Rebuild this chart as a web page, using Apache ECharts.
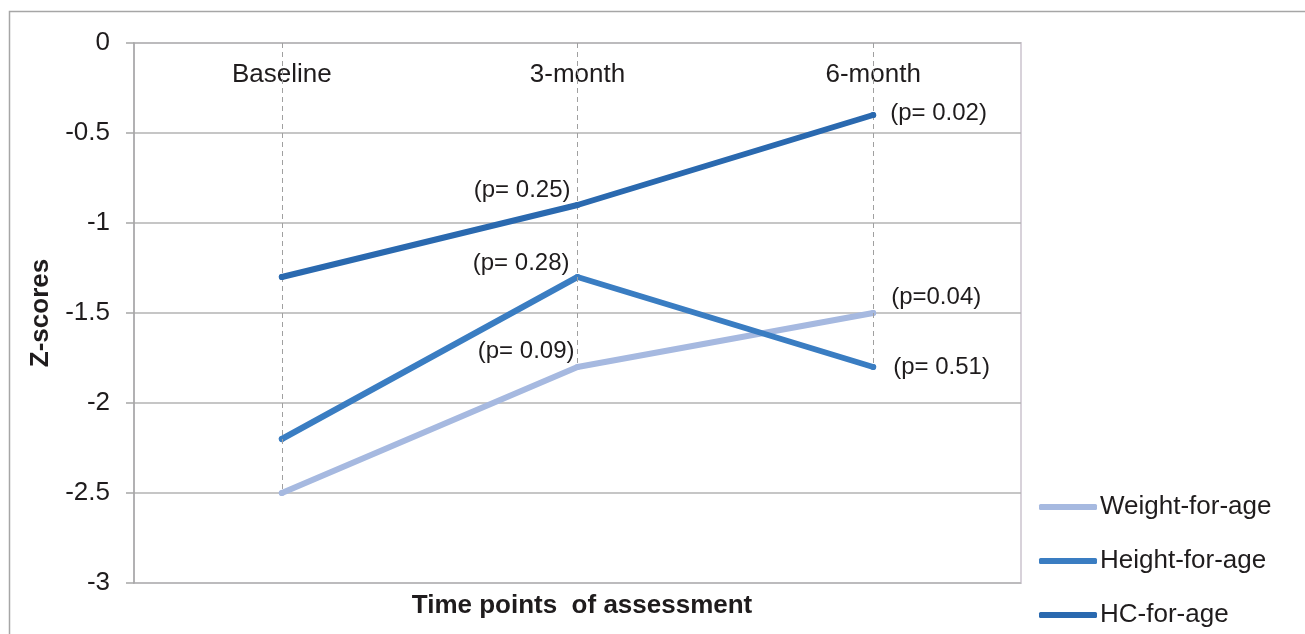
<!DOCTYPE html>
<html>
<head>
<meta charset="utf-8">
<script src="https://cdn.jsdelivr.net/npm/echarts@6/dist/echarts.min.js"></script>
<style>
  html, body { margin: 0; padding: 0; background: #ffffff; }
  #chart { width: 1305px; height: 634px; }
</style>
</head>
<body>
<div id="chart"></div>
<script>
// ---- data ----
const categories = ['Baseline', '3-month', '6-month'];
const seriesNames = ['Weight-for-age', 'Height-for-age', 'HC-for-age'];
const weightForAge = [-2.5, -1.8, -1.5];
const heightForAge = [-2.2, -1.3, -1.8];
const hcForAge = [-1.3, -0.9, -0.4];
const weightLabels = ['', '(p= 0.09)', '(p=0.04)'];
const heightLabels = ['', '(p= 0.28)', '(p= 0.51)'];
const hcLabels = ['', '(p= 0.25)', '(p= 0.02)'];
const yTicks = { min: -3, max: 0, interval: 0.5 };
const xTitle = 'Time points  of assessment';
const yTitle = 'Z-scores';

// ---- styling ----
const FONT = '"Liberation Sans", Arial, sans-serif';
const TEXT = '#1f1c1d';
const colors = ['#a6b9e0', '#3a7dc2', '#2a69af'];

// label placement per series / point (styles only)
const labelPlacement = [
  [null, { position: 'left', distance: 0, offset: [0, -16] }, { position: 'right', distance: 15, offset: [0, -16] }],
  [null, { position: 'left', distance: 5, offset: [0, -14] }, { position: 'right', distance: 17, offset: [0, 0] }],
  [null, { position: 'left', distance: 4, offset: [0, -15] }, { position: 'right', distance: 14, offset: [0, -2] }]
];

function buildData(values, labels, si) {
  return values.map(function (v, i) {
    const pl = labelPlacement[si][i];
    if (!labels[i] || !pl) return { value: v, label: { show: false } };
    return {
      value: v,
      label: {
        show: true,
        formatter: labels[i],
        position: pl.position,
        distance: pl.distance,
        offset: pl.offset,
        fontSize: 24,
        fontFamily: FONT,
        color: TEXT
      }
    };
  });
}

const allValues = [weightForAge, heightForAge, hcForAge];
const allLabels = [weightLabels, heightLabels, hcLabels];

// drop lines: from top of axis (0) down to lowest value at each category
const dropLines = categories.map(function (c, i) {
  const lowest = Math.min.apply(null, allValues.map(function (a) { return a[i]; }));
  return [{ coord: [c, yTicks.max] }, { coord: [c, lowest] }];
});

const series = [{
  name: '__drop',
  type: 'line',
  data: allValues[0].slice(),
  symbol: 'none',
  lineStyle: { opacity: 0 },
  silent: true,
  z: 1,
  markLine: {
    silent: true,
    symbol: ['none', 'none'],
    label: { show: false },
    lineStyle: { color: '#a0a0a0', type: [5, 4], width: 1 },
    data: dropLines
  }
}];

seriesNames.forEach(function (n, si) {
  series.push({
    name: n,
    type: 'line',
    data: buildData(allValues[si], allLabels[si], si),
    symbol: 'circle',
    symbolSize: 6,
    color: colors[si],
    itemStyle: { color: colors[si] },
    lineStyle: { width: 6, color: colors[si], cap: 'round' },
    z: 3 + si,
    animation: false
  });
});

const chart = echarts.init(document.getElementById('chart'), null, { renderer: 'canvas' });
chart.setOption({
  animation: false,
  backgroundColor: '#ffffff',
  textStyle: { fontFamily: FONT, color: TEXT },
  graphic: [{
    type: 'rect',
    shape: { x: 9.5, y: 11.5, width: 1400, height: 700 },
    style: { fill: 'none', stroke: '#a6a6a6', lineWidth: 1.5 },
    silent: true,
    z: 0
  }],
  title: {
    text: xTitle,
    left: 577,
    textAlign: 'center',
    top: 588,
    textStyle: { fontSize: 26, fontWeight: 'bold', fontFamily: FONT, color: TEXT }
  },
  grid: {
    left: 134, right: 284, top: 43, bottom: 51,
    show: true,
    borderColor: '#d8d2da',
    borderWidth: 2,
    backgroundColor: 'transparent'
  },
  legend: {
    data: seriesNames,
    orient: 'vertical',
    left: 1039,
    top: 494,
    itemWidth: 58,
    itemHeight: 6,
    itemGap: 28,
    icon: 'roundRect',
    padding: 0,
    textStyle: { fontSize: 26, fontFamily: FONT, color: TEXT, padding: [0, 0, 0, -2] }
  },
  xAxis: {
    type: 'category',
    data: categories,
    position: 'top',
    boundaryGap: true,
    axisLine: { show: false },
    axisTick: { show: false },
    splitLine: { show: false },
    axisLabel: { inside: true, margin: 19, fontSize: 26, fontFamily: FONT, color: TEXT }
  },
  yAxis: {
    type: 'value',
    min: yTicks.min,
    max: yTicks.max,
    interval: yTicks.interval,
    name: yTitle,
    nameLocation: 'middle',
    nameGap: 80,
    nameTextStyle: { fontSize: 26, fontWeight: 'bold', fontFamily: FONT, color: TEXT },
    axisLine: { show: true, lineStyle: { color: '#a6a6a6', width: 1.5 } },
    axisTick: { show: true, length: 8, lineStyle: { color: '#a6a6a6', width: 1.5 } },
    splitLine: { show: true, lineStyle: { color: '#b3b3b3', width: 1.5 } },
    axisLabel: { margin: 24, fontSize: 26, fontFamily: FONT, color: TEXT }
  },
  series: series
});
</script>
</body>
</html>
